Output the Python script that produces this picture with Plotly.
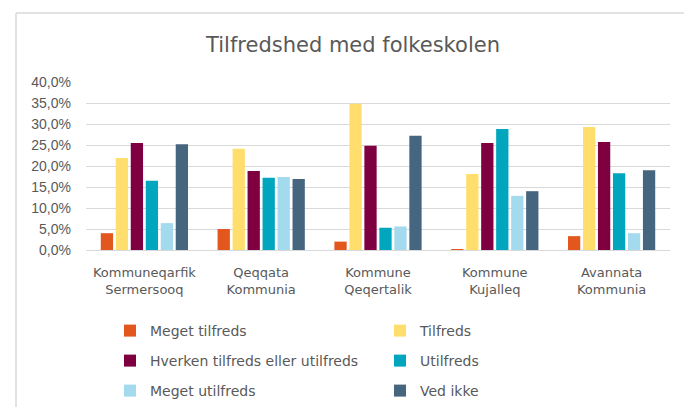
import plotly.graph_objects as go

categories = ["Kommuneqarfik<br>Sermersooq", "Qeqqata<br>Kommunia", "Kommune<br>Qeqertalik",
              "Kommune<br>Kujalleq", "Avannata<br>Kommunia"]
series_names = ["Meget tilfreds", "Tilfreds", "Hverken tilfreds eller utilfreds",
                "Utilfreds", "Meget utilfreds", "Ved ikke"]
meget_tilfreds = [4.0, 5.0, 2.0, 0.2, 3.3]
tilfreds = [21.9, 24.1, 34.8, 18.1, 29.3]
hverken = [25.5, 18.8, 24.8, 25.5, 25.7]
utilfreds = [16.5, 17.2, 5.3, 28.8, 18.3]
meget_utilfreds = [6.4, 17.4, 5.6, 12.9, 4.0]
ved_ikke = [25.2, 16.9, 27.2, 14.0, 19.0]
y_ticks = [0, 5, 10, 15, 20, 25, 30, 35, 40]
y_tick_labels = [f"{v:.1f}".replace(".", ",") + "%" for v in y_ticks]

values = [meget_tilfreds, tilfreds, hverken, utilfreds, meget_utilfreds, ved_ikke]
colors = ["#E2571E", "#FFDE6E", "#7E0040", "#00A6BD", "#A3DAEE", "#46657E"]
legend_ids = ["legend", "legend", "legend2", "legend2", "legend3", "legend3"]

W, H = 684, 407
L, R, T, B = 86, 14, 82, 157
font_sans = "DejaVu Sans, sans-serif"
font_num = "Liberation Sans, Arial, sans-serif"
grey = "#595959"

fig = go.Figure()
for name, vals, col, lg in zip(series_names, values, colors, legend_ids):
    fig.add_trace(go.Bar(x=categories, y=vals, name=name, marker_color=col,
                         marker_line_width=0, legend=lg))

legend_common = dict(orientation="h", xref="container", yref="container",
                     xanchor="left", yanchor="middle", entrywidth=225,
                     entrywidthmode="pixels", font=dict(family=font_sans, size=14, color=grey),
                     bgcolor="rgba(0,0,0,0)", itemclick=False, tracegroupgap=0)
lx = 110 / W
rows_y = [331, 361, 391]

pw = W - L - R
ph = H - T - B
fig.update_layout(
    width=W, height=H,
    margin=dict(l=L, r=R, t=T, b=B, autoexpand=False),
    paper_bgcolor="white", plot_bgcolor="white",
    barmode="group", bargap=0.23, bargroupgap=0.18,
    title=dict(text="Tilfredshed med folkeskolen", x=353 / W, xref="container",
               xanchor="center", y=1 - 45 / H, yref="container", yanchor="middle",
               font=dict(family=font_sans, size=21, color=grey)),
    xaxis=dict(showgrid=False, showline=True, linecolor="#d9d9d9", linewidth=1,
               ticks="", automargin=False, ticklabelstandoff=10,
               tickfont=dict(family=font_sans, size=13, color=grey)),
    yaxis=dict(range=[0, 40], tickvals=y_ticks, ticktext=y_tick_labels,
               showgrid=True, gridcolor="#d9d9d9", gridwidth=1, zeroline=False,
               showline=False, ticks="", ticklabelstandoff=14, automargin=False,
               tickfont=dict(family=font_num, size=14, color=grey)),
    legend=dict(x=lx, y=1 - rows_y[0] / H, **legend_common),
    legend2=dict(x=lx, y=1 - rows_y[1] / H, **legend_common),
    legend3=dict(x=lx, y=1 - rows_y[2] / H, **legend_common),
    shapes=[
        dict(type="line", xref="paper", yref="paper",
             x0=(16 - L) / pw, x1=(W - L) / pw,
             y0=(H - B - 13) / ph, y1=(H - B - 13) / ph,
             line=dict(color="#d9d9d9", width=1.5)),
        dict(type="line", xref="paper", yref="paper",
             x0=(16 - L) / pw, x1=(16 - L) / pw,
             y0=(H - B - 13) / ph, y1=-B / ph,
             line=dict(color="#d9d9d9", width=1.5)),
    ],
)

fig.write_html("out.html", config={"displayModeBar": False},
               post_script="document.body.style.margin='0';")
